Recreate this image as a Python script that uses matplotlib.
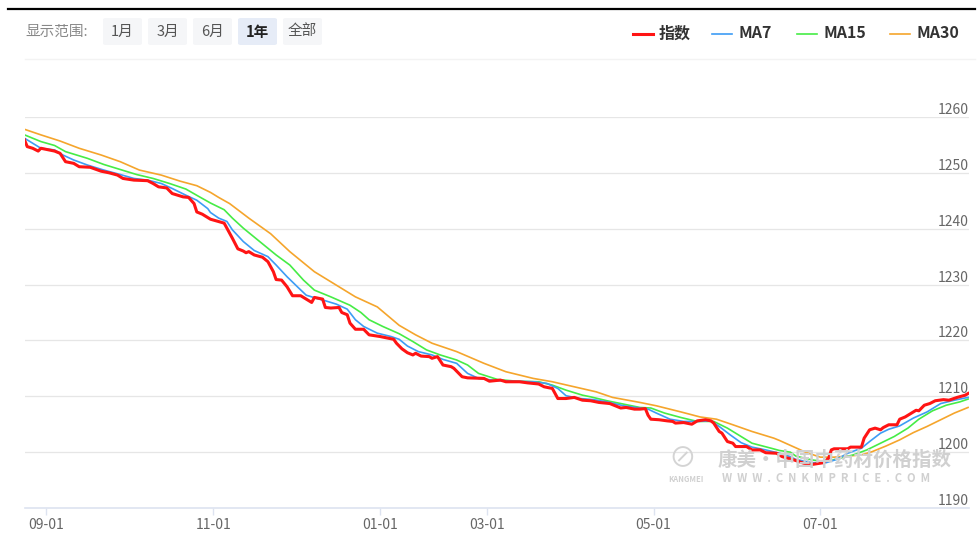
import matplotlib
matplotlib.use("Agg")
import matplotlib.pyplot as plt
from matplotlib.patches import FancyBboxPatch
from matplotlib.lines import Line2D

plt.rcParams["font.family"] = ["Noto Sans CJK SC", "DejaVu Sans"]

W, H = 980, 534

# 横轴为交易日序号（类目轴），刻度标签对应的序号
tick_pos = [8, 69, 130, 169, 230, 291]
tick_labels = ["09-01", "11-01", "01-01", "03-01", "05-01", "07-01"]
y_ticks = [1190, 1200, 1210, 1220, 1230, 1240, 1250, 1260]

# 指数（从图上读取的转折点）
idx_pos = [0, 1, 3, 5, 6, 11, 13, 15, 18, 20, 24, 28, 31, 34, 36, 40, 45, 47, 49, 52,
           54, 58, 60, 62, 63, 65, 68, 73, 74, 76, 78, 80, 81, 82, 84, 87, 89, 91, 92, 94,
           96, 98, 101, 103, 105, 106, 109, 110, 112, 115, 116, 118, 119, 121, 124, 126,
           130, 135, 136, 138, 140, 142, 143, 145, 148, 149, 151, 153, 156, 157, 160, 162,
           168, 170, 174, 176, 181, 184, 188, 190, 193, 195, 198, 201, 204, 207, 210, 214,
           216, 218, 220, 223, 225, 227, 228, 229, 232, 235, 237, 238, 241, 244, 246, 249,
           251, 252, 254, 255, 257, 259, 260, 264, 266, 269, 271, 275, 277, 280, 282, 285,
           288, 292, 294, 295, 296, 301, 302, 306, 307, 309, 311, 313, 314, 316, 319, 320,
           322, 323, 325, 326, 327, 329, 331, 333, 336, 338, 341, 344, 345]
idx_val = [1255.9, 1254.7, 1254.4, 1253.9, 1254.4, 1253.9, 1253.5, 1252.0, 1251.7, 1251.1,
           1251.0, 1250.3, 1250.0, 1249.6, 1249.0, 1248.7, 1248.6, 1248.1, 1247.5, 1247.3,
           1246.3, 1245.7, 1245.6, 1244.5, 1243.0, 1242.6, 1241.7, 1241.0, 1240.1, 1238.3,
           1236.4, 1236.0, 1235.7, 1235.9, 1235.3, 1234.9, 1234.1, 1232.3, 1230.9, 1230.8,
           1229.6, 1228.0, 1228.0, 1227.4, 1226.8, 1227.7, 1227.4, 1225.9, 1225.8, 1225.9,
           1225.0, 1224.6, 1223.1, 1222.0, 1222.0, 1221.0, 1220.7, 1220.2, 1219.5, 1218.5,
           1217.8, 1217.4, 1217.7, 1217.2, 1217.1, 1216.8, 1217.1, 1215.6, 1215.3, 1215.0,
           1213.5, 1213.3, 1213.2, 1212.7, 1212.9, 1212.6, 1212.6, 1212.4, 1212.2, 1211.7,
           1211.4, 1209.6, 1209.6, 1209.8, 1209.3, 1209.2, 1208.9, 1208.7, 1208.3, 1207.9,
           1208.0, 1207.7, 1207.7, 1207.8, 1206.6, 1205.9, 1205.8, 1205.6, 1205.5, 1205.2,
           1205.3, 1205.0, 1205.6, 1205.8, 1205.6, 1205.2, 1203.7, 1203.4, 1201.9, 1201.6,
           1201.0, 1201.0, 1200.4, 1200.4, 1199.9, 1199.8, 1199.2, 1198.8, 1198.5, 1198.0,
           1197.8, 1198.1, 1198.9, 1200.4, 1200.6, 1200.6, 1200.9, 1200.9, 1202.5, 1204.0,
           1204.3, 1204.0, 1204.4, 1204.9, 1204.9, 1205.9, 1206.3, 1206.6, 1207.2, 1207.5,
           1207.4, 1208.4, 1208.7, 1209.2, 1209.4, 1209.3, 1209.8, 1210.2, 1210.5]

# MA7
ma7_pos = [0, 6, 11, 14, 18, 23, 29, 35, 40, 45, 50, 54, 59, 63, 67, 68, 71, 74, 76, 80,
           84, 89, 92, 96, 100, 103, 107, 110, 114, 118, 121, 124, 129, 134, 137, 140, 144,
           149, 153, 158, 162, 166, 173, 179, 186, 191, 195, 198, 203, 208, 213, 219, 225,
           228, 231, 236, 241, 246, 251, 254, 258, 262, 266, 271, 276, 280, 282, 288, 293,
           297, 301, 306, 309, 313, 316, 320, 325, 330, 335, 340, 345]
ma7_val = [1256.2, 1254.4, 1254.1, 1253.2, 1252.3, 1251.4, 1250.5, 1249.7, 1249.0, 1248.7,
           1248.1, 1247.2, 1246.0, 1245.1, 1243.6, 1242.9, 1241.9, 1241.3, 1239.8, 1237.7,
           1236.1, 1235.0, 1233.5, 1231.4, 1229.5, 1228.1, 1227.5, 1227.1, 1226.5, 1225.6,
           1223.7, 1222.5, 1221.3, 1220.7, 1220.2, 1219.0, 1218.0, 1217.4, 1216.6, 1215.9,
           1214.1, 1213.2, 1212.8, 1212.7, 1212.6, 1212.3, 1211.4, 1210.1, 1209.6, 1209.4,
           1209.0, 1208.3, 1207.9, 1207.7, 1207.0, 1205.9, 1205.5, 1205.5, 1205.6, 1204.6,
           1203.1, 1201.7, 1200.9, 1200.4, 1199.8, 1199.2, 1198.7, 1198.1, 1198.1, 1198.7,
           1199.8, 1200.7, 1201.9, 1203.4, 1204.1, 1204.7, 1206.1, 1207.2, 1208.7, 1209.3,
           1209.8]

# MA15
ma15_pos = [0, 6, 11, 15, 23, 29, 35, 41, 47, 53, 59, 64, 68, 73, 76, 80, 86, 92, 97, 102,
            106, 112, 119, 123, 126, 131, 137, 142, 147, 152, 158, 162, 166, 173, 180, 188,
            193, 198, 204, 207, 213, 219, 225, 229, 234, 240, 246, 252, 257, 262, 266, 273,
            276, 280, 282, 288, 293, 298, 303, 308, 313, 318, 323, 327, 332, 337, 342, 345]
ma15_val = [1256.8, 1255.6, 1254.9, 1253.8, 1252.6, 1251.5, 1250.6, 1249.7, 1249.0, 1248.1,
            1247.1, 1245.7, 1244.6, 1243.4, 1241.9, 1240.1, 1237.7, 1235.3, 1233.5, 1230.8,
            1229.0, 1227.8, 1226.3, 1225.0, 1223.7, 1222.5, 1221.2, 1219.8, 1218.3, 1217.4,
            1216.5, 1215.6, 1214.1, 1213.0, 1212.7, 1212.6, 1212.0, 1211.1, 1210.2, 1209.9,
            1209.2, 1208.6, 1208.0, 1207.9, 1207.0, 1206.2, 1205.5, 1205.5, 1204.3, 1202.8,
            1201.6, 1200.7, 1200.3, 1200.0, 1199.3, 1198.6, 1198.3, 1198.9, 1199.5, 1200.4,
            1201.6, 1202.8, 1204.3, 1205.9, 1207.4, 1208.4, 1209.0, 1209.5]

# MA30
ma30_pos = [0, 6, 13, 20, 28, 35, 42, 50, 57, 63, 68, 71, 75, 82, 90, 97, 106, 113, 121,
            129, 137, 143, 149, 158, 168, 176, 186, 193, 201, 209, 215, 225, 231, 240, 247,
            253, 259, 266, 274, 276, 281, 286, 291, 296, 301, 306, 310, 315, 320, 325, 330,
            335, 340, 345]
ma30_val = [1257.8, 1256.8, 1255.7, 1254.4, 1253.2, 1252.0, 1250.5, 1249.6, 1248.5, 1247.7,
            1246.5, 1245.6, 1244.5, 1241.9, 1239.1, 1235.9, 1232.3, 1230.2, 1227.8, 1226.0,
            1222.7, 1221.0, 1219.5, 1218.0, 1215.9, 1214.4, 1213.2, 1212.6, 1211.7, 1210.8,
            1209.8, 1208.9, 1208.3, 1207.2, 1206.3, 1205.9, 1204.9, 1203.7, 1202.5, 1202.1,
            1201.0, 1199.9, 1199.1, 1199.1, 1199.3, 1199.5, 1200.1, 1201.1, 1202.2, 1203.5,
            1204.6, 1205.8, 1207.0, 1208.0]

C_IDX = "#ff1414"
C_MA7 = "#3d9cf5"
C_MA15 = "#46ec46"
C_MA30 = "#f5a52c"


def fx(x):
    return x / W


def fy(y):
    return 1 - y / H


fig = plt.figure(figsize=(W / 100, H / 100), dpi=100)
fig.patch.set_facecolor("white")

left, right, top, bottom = 24.5, 969, 117, 508
ax = fig.add_axes([fx(left), fy(bottom), fx(right - left), (bottom - top) / H])

for v in y_ticks[1:]:
    ax.axhline(v, color="#e6e6e6", lw=0.9, zorder=0)

ax.plot(ma30_pos, ma30_val, color=C_MA30, lw=1.2, zorder=2)
ax.plot(ma15_pos, ma15_val, color=C_MA15, lw=1.2, zorder=3)
ax.plot(ma7_pos, ma7_val, color=C_MA7, lw=1.2, zorder=4)
ax.plot(idx_pos, idx_val, color=C_IDX, lw=2.2, zorder=5, solid_joinstyle="round")

ax.set_xlim(0, (right - left) / 2.735)
ax.set_ylim(1190, 1260)
for s in ["left", "right", "top"]:
    ax.spines[s].set_visible(False)
ax.spines["bottom"].set_color("#dde3f0")
ax.spines["bottom"].set_linewidth(1.2)
ax.set_yticks([])
ax.set_xticks(tick_pos)
ax.set_xticklabels(tick_labels, fontsize=10, color="#666666")
ax.tick_params(axis="x", length=5, width=1, color="#dde3f0", pad=2)

# 右侧纵轴标签（在网格线上方）
for v in y_ticks:
    ax.text(1.0, v, str(v), transform=ax.get_yaxis_transform(), ha="right",
            va="bottom", fontsize=10, color="#666666")

# 水印
fig.text(fx(718), fy(460), "康美·中国中药材价格指数", fontsize=14, fontweight="bold",
         color="#d0d0d0", va="center", ha="left", zorder=1)
fig.text(fx(668), fy(479), "KANGMEI", fontsize=5.5, fontweight="bold", color="#d0d0d0",
         va="center", ha="left")
fig.text(fx(722), fy(479), "W  W  W  .  C  N  K  M  P  R  I  C  E  .  C  O  M",
         fontsize=8, fontweight="bold", color="#d0d0d0", va="center", ha="left")
fig.text(fx(668), fy(459), "⊘", fontsize=20, color="#d4d4d4", va="center", ha="left")

# 顶部黑线与分隔线
fig.add_artist(Line2D([fx(8), fx(975)], [fy(8.7), fy(8.7)], color="black", lw=1.6))
fig.add_artist(Line2D([fx(25), fx(975)], [fy(59), fy(59)], color="#f3f3f3", lw=1))

# 显示范围按钮
fig.text(fx(25), fy(31.5), "显示范围:", fontsize=10.5, color="#888888", va="center")
buttons = [("1月", 103), ("3月", 148), ("6月", 193), ("1年", 238), ("全部", 283)]
for lab, x0 in buttons:
    active = lab == "1年"
    box = FancyBboxPatch((fx(x0), fy(45)), fx(39), 27 / H,
                         boxstyle="round,pad=0,rounding_size=0.003",
                         transform=fig.transFigure,
                         facecolor="#e6ecf7" if active else "#f5f6f8",
                         edgecolor="none")
    fig.add_artist(box)
    fig.text(fx(x0 + 19.5), fy(31.5), lab, fontsize=10.5, ha="center", va="center",
             color="#222222" if active else "#555555",
             fontweight="bold" if active else "normal")

# 图例
legend_items = [("指数", C_IDX, 633, 2.2), ("MA7", C_MA7, 712, 1.2),
                ("MA15", C_MA15, 797, 1.2), ("MA30", C_MA30, 890, 1.2)]
for lab, col, x0, lw in legend_items:
    fig.add_artist(Line2D([fx(x0), fx(x0 + 20)], [fy(34), fy(34)], color=col, lw=lw))
    fig.text(fx(x0 + 26), fy(33.5), lab, fontsize=11.5, fontweight="bold", color="#333333",
             va="center", ha="left")

fig.savefig("out.png", dpi=100)
